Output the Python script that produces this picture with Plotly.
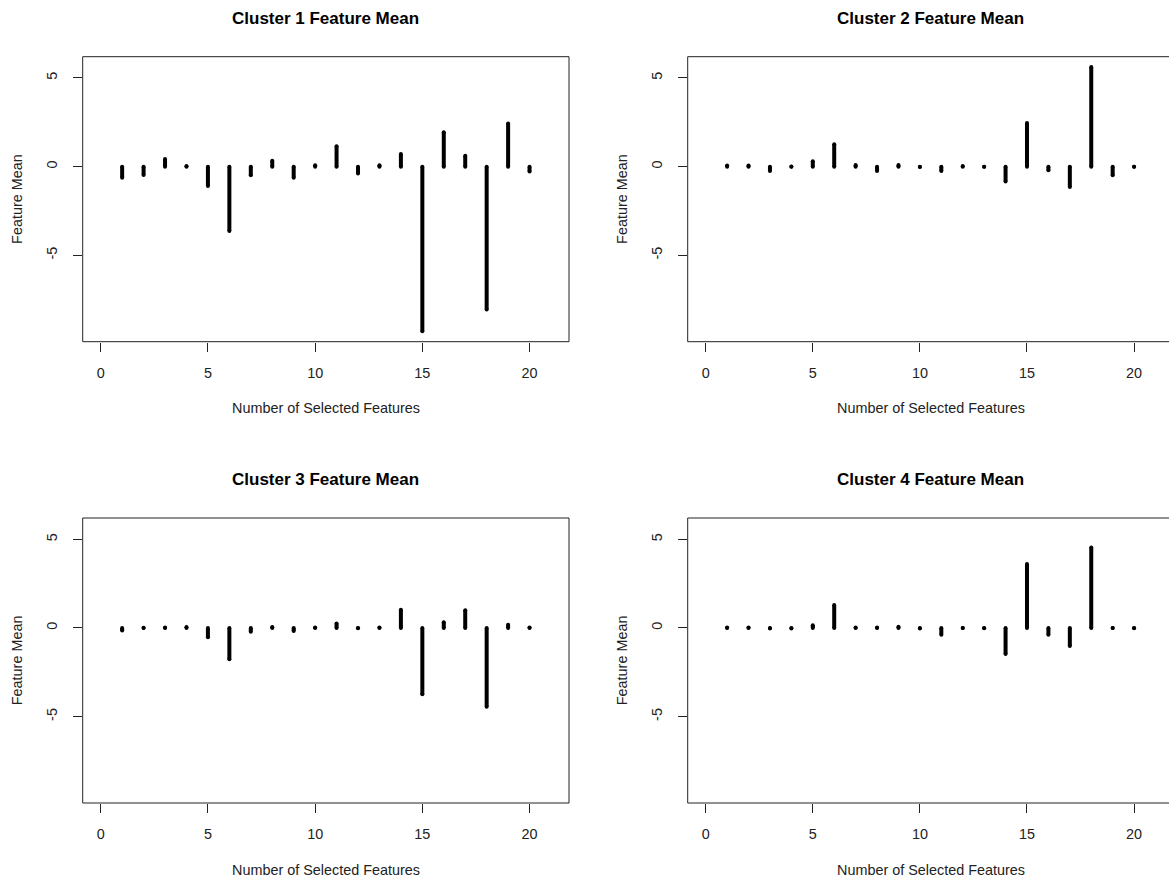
import plotly.graph_objects as go

features = list(range(1, 21))
cluster_titles = ["Cluster 1 Feature Mean", "Cluster 2 Feature Mean",
                  "Cluster 3 Feature Mean", "Cluster 4 Feature Mean"]
cluster1 = [-0.62, -0.47, 0.43, 0.03, -1.09, -3.63, -0.49, 0.34, -0.62, 0.08,
            1.15, -0.38, 0.08, 0.71, -9.28, 1.94, 0.62, -8.05, 2.43, -0.28]
cluster2 = [0.06, 0.06, -0.24, 0.01, 0.30, 1.26, 0.09, -0.24, 0.09, -0.02,
            -0.24, 0.04, -0.01, -0.83, 2.46, -0.20, -1.15, 5.62, -0.49, -0.01]
cluster3 = [-0.14, 0.01, 0.03, 0.05, -0.53, -1.77, -0.21, 0.05, -0.17, 0.03,
            0.25, -0.01, 0.03, 1.02, -3.74, 0.32, 1.00, -4.44, 0.18, 0.02]
cluster4 = [0.02, 0.02, -0.03, -0.03, 0.15, 1.30, 0.03, 0.02, 0.07, -0.03,
            -0.39, 0.00, -0.02, -1.47, 3.60, -0.38, -1.02, 4.53, 0.00, -0.02]
clusters = [cluster1, cluster2, cluster3, cluster4]

x_ticks = [0, 5, 10, 15, 20]
y_ticks = [-5, 0, 5]
y_tick_text = ["-5", "0", "5"]

W, H = 1169, 882
FONT = "Liberation Sans, Arial, sans-serif"

# panel pixel geometry (left, right, top, bottom)
panels = [
    (82.7, 569.0, 56.7, 341.7),
    (687.7, 1169.0, 56.7, 341.7),
    (82.7, 569.0, 518.0, 803.0),
    (687.7, 1169.0, 518.0, 803.0),
]
full_width = 569.0 - 82.7
x_ranges = [[-0.84, 21.84], [-0.84, 21.63], [-0.84, 21.84], [-0.84, 21.63]]
y_range = [-9.87, 6.20]

fig = go.Figure()
layout = dict(width=W, height=H, margin=dict(l=0, r=0, t=0, b=0),
              paper_bgcolor="white", plot_bgcolor="white", showlegend=False,
              font=dict(family=FONT, size=14, color="black"))
annotations = []
shapes = []

for k, (vals, title) in enumerate(zip(clusters, cluster_titles)):
    xs, ys = [], []
    for f, v in zip(features, vals):
        xs += [f, f, None]
        ys += [0, v, None]
    ax = "" if k == 0 else str(k + 1)
    fig.add_trace(go.Scatter(x=xs, y=ys, mode="lines+markers",
                             line=dict(color="black", width=4),
                             marker=dict(color="black", size=4),
                             xaxis="x" + ax, yaxis="y" + ax,
                             hoverinfo="skip"))
    l, r, t, b = panels[k]
    layout["xaxis" + ax] = dict(
        domain=[l / W, r / W], range=x_ranges[k], tickvals=x_ticks,
        ticks="outside", ticklen=9, tickwidth=1, tickcolor="#222",
        ticklabelstandoff=9,
        showgrid=False, zeroline=False, showline=False,
        anchor="y" + ax, tickfont=dict(size=14.4, color="#222"), fixedrange=True)
    layout["yaxis" + ax] = dict(
        domain=[1 - b / H, 1 - t / H], range=y_range, tickvals=y_ticks,
        ticktext=y_tick_text, tickangle=-90,
        ticks="outside", ticklen=9, tickwidth=1, tickcolor="#222",
        ticklabelstandoff=10,
        showgrid=False, zeroline=False, showline=False,
        anchor="x" + ax, tickfont=dict(size=14.4, color="#222"), fixedrange=True)
    xref = "x" + ax + " domain"
    yref = "y" + ax + " domain"
    right_edge = 1 if r < W - 1 else 1.2
    lines = [(0, 0, 0, 1), (0, 1, right_edge, 1), (0, 0, right_edge, 0)]
    if r < W - 1:
        lines.append((1, 0, 1, 1))
    for (x0, y0, x1, y1) in lines:
        shapes.append(dict(type="line", xref=xref, yref=yref,
                           x0=x0, y0=y0, x1=x1, y1=y1,
                           line=dict(color="#222", width=1)))
    cx = (l + full_width / 2) / W
    annotations.append(dict(text="<b>" + title + "</b>", x=cx, y=1 - (t - 38.4) / H,
                            xref="paper", yref="paper", showarrow=False,
                            xanchor="center", yanchor="middle",
                            font=dict(size=17, color="black", family=FONT)))
    annotations.append(dict(text="Number of Selected Features", x=cx,
                            y=1 - (b + 66.5) / H, xref="paper", yref="paper",
                            showarrow=False, xanchor="center", yanchor="middle",
                            font=dict(size=14.4, color="#222", family=FONT)))
    annotations.append(dict(text="Feature Mean", x=(l - 66) / W,
                            y=1 - ((t + b) / 2) / H, xref="paper", yref="paper",
                            showarrow=False, xanchor="center", yanchor="middle",
                            textangle=-90,
                            font=dict(size=14.4, color="#222", family=FONT)))

layout["annotations"] = annotations
layout["shapes"] = shapes
fig.update_layout(**layout)
fig.write_html("out.html")
